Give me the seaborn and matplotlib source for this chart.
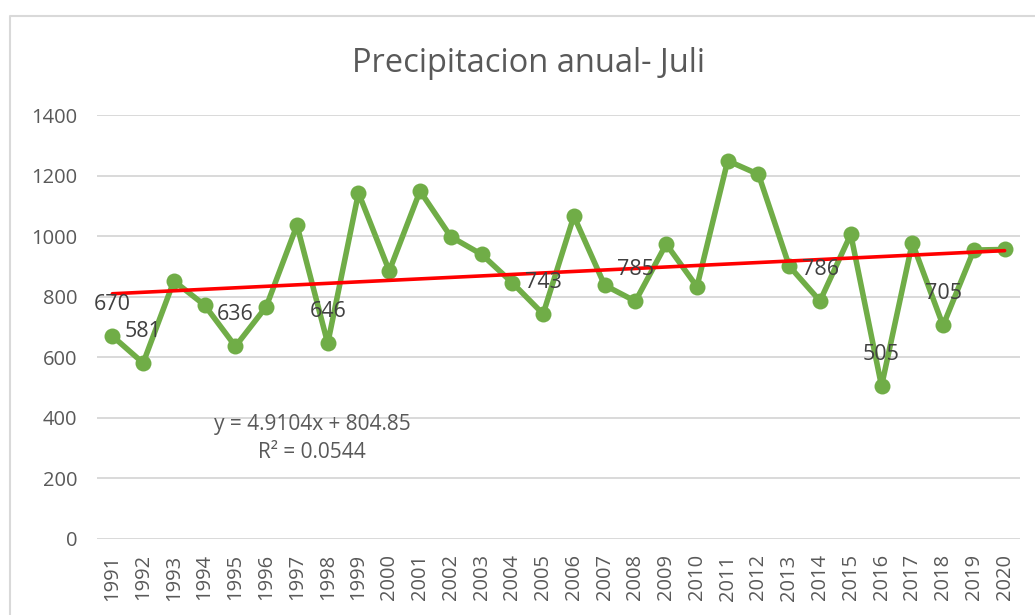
import numpy as np
import pandas as pd
import matplotlib.pyplot as plt
import seaborn as sns
from matplotlib.lines import Line2D

# --- datos ---
anios = list(range(1991, 2021))
precipitacion = [670, 581, 852, 772, 636, 767, 1036, 646, 1143, 885,
                 1149, 998, 940, 846, 743, 1066, 838, 785, 974, 833,
                 1249, 1204, 901, 786, 1006, 505, 978, 705, 954, 956]
# etiquetas que se muestran en el grafico
etiquetas = {1991: 670, 1992: 581, 1995: 636, 1998: 646, 2005: 743,
             2008: 785, 2014: 786, 2016: 505, 2018: 705}
pendiente = 4.9104
intercepto = 804.85
r2 = 0.0544
yticks = [0, 200, 400, 600, 800, 1000, 1200, 1400]

df = pd.DataFrame({'Anio': anios, 'Precipitacion': precipitacion})
df['t'] = df['Anio'] - anios[0] + 1
df['Tendencia'] = pendiente * df['t'] + intercepto

sns.set_theme(style="whitegrid")
plt.rcParams['font.family'] = ['Open Sans', 'DejaVu Sans']
gris = '#595959'

fig = plt.figure(figsize=(10.35, 6.15), dpi=100)
ax = fig.add_axes([0.0937, 0.1236, 0.8918, 0.6894])

sns.lineplot(data=df, x='Anio', y='Precipitacion', ax=ax, color='#70AD47',
             linewidth=4, marker='o', markersize=11.5, markeredgewidth=0, zorder=3)
sns.lineplot(data=df, x='Anio', y='Tendencia', ax=ax, color='#FF0000',
             linewidth=2.6, zorder=4)

for anio, val in etiquetas.items():
    ax.annotate(str(val), xy=(anio, val), xytext=(0, 23), textcoords='offset points',
                ha='center', va='center', fontsize=15.5, color='#404040', zorder=5)

# ecuacion de la tendencia (como en Excel)
ax.text(1997.5, 378, f'y = {pendiente}x + {intercepto}', ha='center', va='center',
        fontsize=15, color=gris)
ax.text(1997.5, 285, f'R² = {r2}', ha='center', va='center', fontsize=15, color=gris)

ax.set_xlim(anios[0] - 0.5, anios[-1] + 0.5)
ax.set_ylim(0, 1400)
ax.set_xticks(anios)
ax.set_xticklabels([str(a) for a in anios], rotation=90)
ax.set_yticks(yticks)
ax.tick_params(axis='x', labelsize=14.5, colors=gris, pad=11, length=0)
ax.tick_params(axis='y', labelsize=14.5, colors=gris, pad=14, length=0)
ax.grid(axis='y', color='#D9D9D9', linewidth=1.4)
ax.grid(axis='x', visible=False)
ax.set_xlabel('')
ax.set_ylabel('')
for s in ax.spines.values():
    s.set_visible(False)

fig.text(0.511, 0.897, 'Precipitacion anual- Juli', ha='center', va='center',
         fontsize=23.5, color=gris)

# borde del area del grafico (recortado)
fig.add_artist(Line2D([10 / 1035, 10 / 1035, 1.0], [0.0, 1 - 16 / 615, 1 - 16 / 615],
                      transform=fig.transFigure, color='#D9D9D9', linewidth=1.5))

plt.savefig('out.png', dpi=100)
